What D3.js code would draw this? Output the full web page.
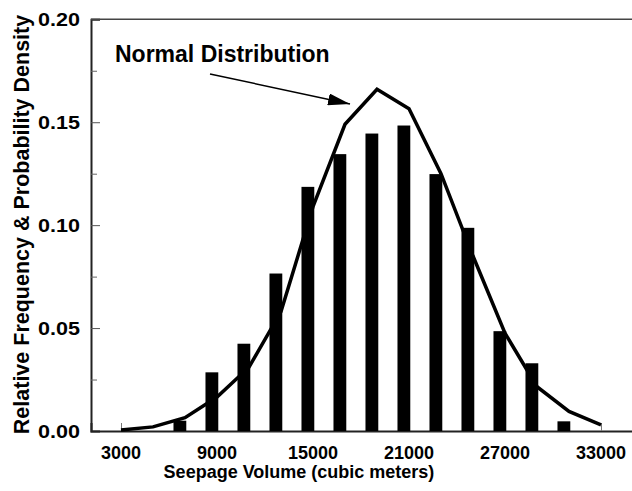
<!DOCTYPE html>
<html>
<head>
<meta charset="utf-8">
<script src="https://cdnjs.cloudflare.com/ajax/libs/d3/7.8.5/d3.min.js"></script>
<style>
  body { margin: 0; background: #fff; }
  svg { display: block; }
  text { font-family: "Liberation Sans", Arial, sans-serif; font-weight: bold; fill: #000; }
</style>
</head>
<body>
<script>

// relative frequency (bars), one per 2000 m3 bin
var barVolumes = [7000, 9000, 11000, 13000, 15000, 17000, 19000, 21000, 23000, 25000, 27000, 29000, 31000];
var barFreq    = [0.005, 0.0285, 0.0424, 0.0765, 0.1186, 0.1345, 0.1445, 0.1484, 0.1248, 0.0987, 0.0485, 0.0329, 0.0047];

// fitted normal distribution (line)
var lineVolumes = [3000, 5000, 7000, 9000, 11000, 13000, 15000, 17000, 19000, 21000, 23000, 25000, 27000, 29000, 31000, 33000];
var lineDensity = [0.0005, 0.002, 0.0065, 0.0165, 0.031, 0.058, 0.109, 0.149, 0.166, 0.1565, 0.125, 0.085, 0.0475, 0.0215, 0.0095, 0.003];

var xTicks = [3000, 9000, 15000, 21000, 27000, 33000];
var yTicks = [0, 0.05, 0.10, 0.15, 0.20];
var yMinorTicks = [0.025, 0.075, 0.125, 0.175];

var width = 632, height = 491;

var svg = d3.select("body").append("svg")
    .attr("width", width)
    .attr("height", height);

var x = d3.scaleLinear().domain([1125, 35500]).range([91, 641]);
var y = d3.scaleLinear().domain([0, 0.2]).range([431, 19.3]);

// frame: top and left lines
svg.append("line")
  .attr("x1", x.range()[0]).attr("x2", x.range()[1])
  .attr("y1", y(0.2)).attr("y2", y(0.2))
  .style("stroke", "#444").style("stroke-width", 1.5);

// y axis, ticks pointing inward
var yAxis = svg.append("g")
  .attr("transform", "translate(" + x.range()[0] + ",0)")
  .call(d3.axisRight(y).tickValues(yTicks).tickSize(9).tickFormat(""));
yAxis.select(".domain").style("stroke", "#222").style("stroke-width", 2);
yAxis.selectAll(".tick line").style("stroke", "#555").style("stroke-width", 1);

svg.append("g")
  .attr("transform", "translate(" + x.range()[0] + ",0)")
  .call(d3.axisRight(y).tickValues(yMinorTicks).tickSize(6).tickFormat(""))
  .call(function(g) { g.select(".domain").remove(); })
  .selectAll(".tick line").style("stroke", "#666").style("stroke-width", 1);

// y tick labels (the scan shows them quite wide)
svg.append("g").selectAll("text")
  .data(yTicks)
  .enter().append("text")
  .attr("x", 80)
  .attr("y", function(d) { return y(d) + 6.5; })
  .attr("text-anchor", "end")
  .attr("textLength", 42)
  .attr("lengthAdjust", "spacingAndGlyphs")
  .style("font-size", "18px")
  .text(function(d) { return d.toFixed(2); });

// x axis, ticks pointing inward
var xAxis = svg.append("g")
  .attr("transform", "translate(0," + y(0) + ")")
  .call(d3.axisTop(x).tickValues(xTicks).tickSize(8).tickFormat(""));
xAxis.select(".domain").style("stroke", "#222").style("stroke-width", 2);
xAxis.selectAll(".tick line").style("stroke", "#777").style("stroke-width", 1);

svg.append("g").selectAll("text")
  .data(xTicks)
  .enter().append("text")
  .attr("x", function(d) { return x(d); })
  .attr("y", 459)
  .attr("text-anchor", "middle")
  .style("font-size", "18px")
  .text(function(d) { return d; });

// bars sit just left of their bin value
svg.append("g").selectAll("rect")
  .data(barVolumes)
  .enter().append("rect")
  .attr("x", function(d) { return x(d - 720); })
  .attr("width", function(d) { return x(d + 80) - x(d - 720); })
  .attr("y", function(d, i) { return y(barFreq[i]); })
  .attr("height", function(d, i) { return y(0) - y(barFreq[i]); })
  .style("fill", "#000");

// normal distribution curve
var line = d3.line()
  .x(function(d, i) { return x(lineVolumes[i]); })
  .y(function(d) { return y(d); });

svg.append("path")
  .datum(lineDensity)
  .attr("d", line)
  .style("fill", "none")
  .style("stroke", "#000")
  .style("stroke-width", 3.5)
  .style("stroke-linejoin", "miter");

// annotation with arrow
svg.append("defs").append("marker")
  .attr("id", "arrow")
  .attr("viewBox", "0 0 22 12")
  .attr("refX", 22).attr("refY", 6)
  .attr("markerWidth", 22).attr("markerHeight", 12)
  .attr("markerUnits", "userSpaceOnUse")
  .attr("orient", "auto")
  .append("path")
  .attr("d", "M0,0 L22,6 L0,12 Z")
  .style("fill", "#000");

svg.append("line")
  .attr("x1", 210).attr("y1", 74)
  .attr("x2", 350).attr("y2", 104)
  .style("stroke", "#000")
  .style("stroke-width", 1.5)
  .attr("marker-end", "url(#arrow)");

svg.append("text")
  .attr("x", 115)
  .attr("y", 62)
  .style("font-size", "23px")
  .text("Normal Distribution");

// axis titles
svg.append("text")
  .attr("x", 299)
  .attr("y", 478)
  .attr("text-anchor", "middle")
  .style("font-size", "18px")
  .text("Seepage Volume (cubic meters)");

svg.append("text")
  .attr("transform", "translate(29,224.5) rotate(-90)")
  .attr("text-anchor", "middle")
  .style("font-size", "21.5px")
  .text("Relative Frequency & Probability Density");

</script>
</body>
</html>
